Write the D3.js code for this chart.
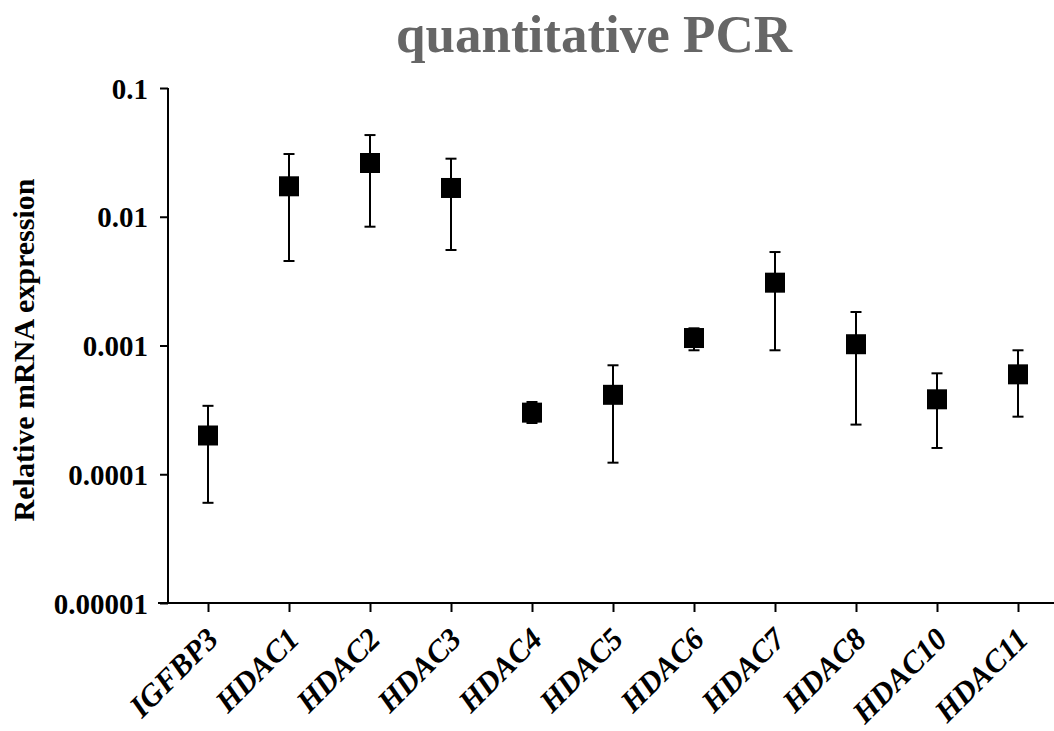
<!DOCTYPE html>
<html>
<head>
<meta charset="utf-8">
<script src="https://cdn.jsdelivr.net/npm/d3@7"></script>
<style>
  html, body { margin: 0; padding: 0; background: #fff; }
  svg { display: block; }
  text { font-family: "Liberation Serif", "Times New Roman", serif; }
</style>
</head>
<body>
<svg id="chart" width="1054" height="731"></svg>
<script>
const categories = ["IGFBP3", "HDAC1", "HDAC2", "HDAC3", "HDAC4", "HDAC5", "HDAC6", "HDAC7", "HDAC8", "HDAC10", "HDAC11"];
const meanValues = [0.0002, 0.01724, 0.02615, 0.01673, 0.000301, 0.000414, 0.001143, 0.003076, 0.001023, 0.000382, 0.000597];
const upperValues = [0.00034, 0.0307, 0.0431, 0.02825, 0.000364, 0.000702, 0.00136, 0.00532, 0.00182, 0.000608, 0.000918];
const lowerValues = [0.00006, 0.00453, 0.00837, 0.00552, 0.00025, 0.000123, 0.000918, 0.000918, 0.000243, 0.00016, 0.00028];
const yTickValues = [0.1, 0.01, 0.001, 0.0001, 0.00001];
const yTickLabels = ["0.1", "0.01", "0.001", "0.0001", "0.00001"];
const titleText = "quantitative PCR";
const yAxisTitle = "Relative mRNA expression";

const data = categories.map((c, i) => ({ cat: c, mean: meanValues[i], hi: upperValues[i], lo: lowerValues[i] }));

const svg = d3.select("#chart");
const W = 1054, H = 731;
const mLeft = 168, mTop = 88, mBottom = 603;

const x = d3.scalePoint().domain(categories).range([208, 1018]);
const y = d3.scaleLog().domain([0.00001, 0.1]).range([mBottom, mTop]);

// Title
svg.append("text")
  .attr("x", 594).attr("y", 52)
  .attr("text-anchor", "middle")
  .attr("font-size", 53).attr("font-weight", "bold")
  .attr("fill", "#666666")
  .text(titleText);

// Y axis title
svg.append("text")
  .attr("transform", `translate(34, 350) rotate(-90)`)
  .attr("text-anchor", "middle")
  .attr("font-size", 30).attr("font-weight", "bold")
  .attr("fill", "#000")
  .text(yAxisTitle);

// Y axis
const yAxis = d3.axisLeft(y)
  .tickValues(yTickValues)
  .tickFormat((d, i) => yTickLabels[i])
  .tickSize(8).tickPadding(12);
const gy = svg.append("g").attr("transform", `translate(${mLeft},0)`).call(yAxis);
gy.select(".domain").attr("d", `M0,${mTop}V${mBottom}`).attr("stroke", "#000").attr("stroke-width", 2);
gy.selectAll(".tick line").attr("stroke", "#000").attr("stroke-width", 2);
gy.selectAll(".tick text")
  .attr("font-family", "Liberation Serif, Times New Roman, serif")
  .attr("font-size", 29).attr("font-weight", "bold").attr("fill", "#000")
  .attr("dy", "0.35em");

// X axis
const xAxis = d3.axisBottom(x).tickSize(9).tickFormat("");
const gx = svg.append("g").attr("transform", `translate(0,${mBottom})`).call(xAxis);
gx.select(".domain").attr("d", `M${mLeft - 10},0H${W}`).attr("stroke", "#000").attr("stroke-width", 2);
gx.selectAll(".tick line").attr("stroke", "#000").attr("stroke-width", 2);

// X labels (rotated)
svg.append("g").selectAll("text")
  .data(categories)
  .join("text")
  .attr("transform", d => `translate(${x(d) + 12}, ${mBottom + 38}) rotate(-45)`)
  .attr("text-anchor", "end")
  .attr("font-size", 31).attr("font-weight", "bold").attr("font-style", "italic")
  .attr("fill", "#000")
  .text(d => d);

// Error bars
const eb = svg.append("g").selectAll("g").data(data).join("g");
eb.append("line")
  .attr("x1", d => x(d.cat)).attr("x2", d => x(d.cat))
  .attr("y1", d => y(d.hi)).attr("y2", d => y(d.lo))
  .attr("stroke", "#000").attr("stroke-width", 2);
eb.append("line")
  .attr("x1", d => x(d.cat) - 5.5).attr("x2", d => x(d.cat) + 5.5)
  .attr("y1", d => y(d.hi)).attr("y2", d => y(d.hi))
  .attr("stroke", "#000").attr("stroke-width", 2);
eb.append("line")
  .attr("x1", d => x(d.cat) - 5.5).attr("x2", d => x(d.cat) + 5.5)
  .attr("y1", d => y(d.lo)).attr("y2", d => y(d.lo))
  .attr("stroke", "#000").attr("stroke-width", 2);

// Markers
svg.append("g").selectAll("rect").data(data).join("rect")
  .attr("x", d => x(d.cat) - 10).attr("y", d => y(d.mean) - 10)
  .attr("width", 20).attr("height", 20)
  .attr("fill", "#000");
</script>
</body>
</html>
